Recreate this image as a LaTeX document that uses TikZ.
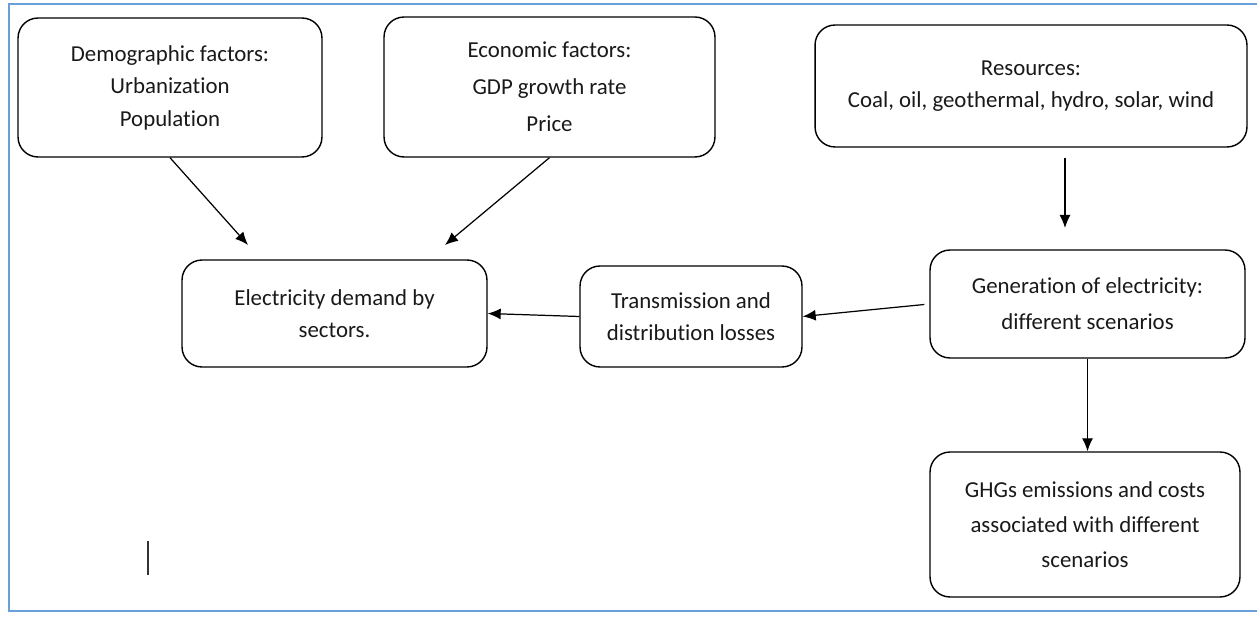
\documentclass[tikz,border=0pt]{standalone}
\usepackage{fontspec}
\setmainfont[Ligatures=NoCommon]{Carlito}
\usetikzlibrary{arrows.meta}
\definecolor{frameblue}{RGB}{104,160,218}
\begin{document}
\begin{tikzpicture}
[x=0.02cm,y=-0.02cm,%
  box/.style={draw,rounded corners=0.4cm,line width=0.8pt,align=center,
    inner sep=0pt,text=black!90,font=\fontsize{13}{18.5}\selectfont},%
  arr/.style={-{Latex[length=2.6mm,width=2.2mm]},line width=0.7pt}]
\useasboundingbox (0,0) rectangle (1257,617);
\draw[frameblue,line width=1.2pt] (1257,4) -- (9,4) -- (9,611) -- (1257,611);
\node[box,minimum width=6.08cm,minimum height=2.78cm] (demo) at (170,87.5)
  {Demographic factors:\\Urbanization\\Population};
\node[box,minimum width=6.62cm,minimum height=2.8cm,
  font=\fontsize{13}{21}\selectfont] (econ) at (549.5,87)
  {Economic factors:\\GDP growth rate\\Price};
\node[box,minimum width=8.64cm,minimum height=2.44cm] (res) at (1031,86)
  {Resources:\\Coal, oil, geothermal, hydro, solar, wind};
\node[box,minimum width=6.1cm,minimum height=2.14cm] (demand) at (334.5,313.5)
  {Electricity demand by\\sectors.};
\node[box,minimum width=4.44cm,minimum height=2.02cm] (trans) at (691,316.5)
  {Transmission and\\distribution losses};
\node[box,minimum width=6.3cm,minimum height=2.16cm,
  font=\fontsize{13}{20.5}\selectfont] (gen) at (1087.5,304)
  {Generation of electricity:\\different scenarios};
\node[box,minimum width=6.2cm,minimum height=2.9cm,
  font=\fontsize{13}{20}\selectfont] (ghg) at (1085,524.5)
  {GHGs emissions and costs\\associated with different\\scenarios};
\coordinate (demoend) at (248,245);
\coordinate (econend) at (445,245);
\coordinate (resend) at (1065,228);
\coordinate (marka) at (148,541);
\coordinate (markb) at (148,575);
\draw[arr] (demo.south) -- (demoend);
\draw[arr] (econ.south) -- (econend);
\draw[arr,shorten <=0.2cm] (res.south -| resend) -- (resend);
\draw[arr] (trans.west) -- (demand.east);
\draw[arr,shorten <=0.1cm] (gen.west) -- (trans.east);
\draw[arr] (gen.south) -- (gen.south |- ghg.north);
\draw[line width=0.8pt,black!80] (marka) -- (markb);
\end{tikzpicture}
\end{document}
